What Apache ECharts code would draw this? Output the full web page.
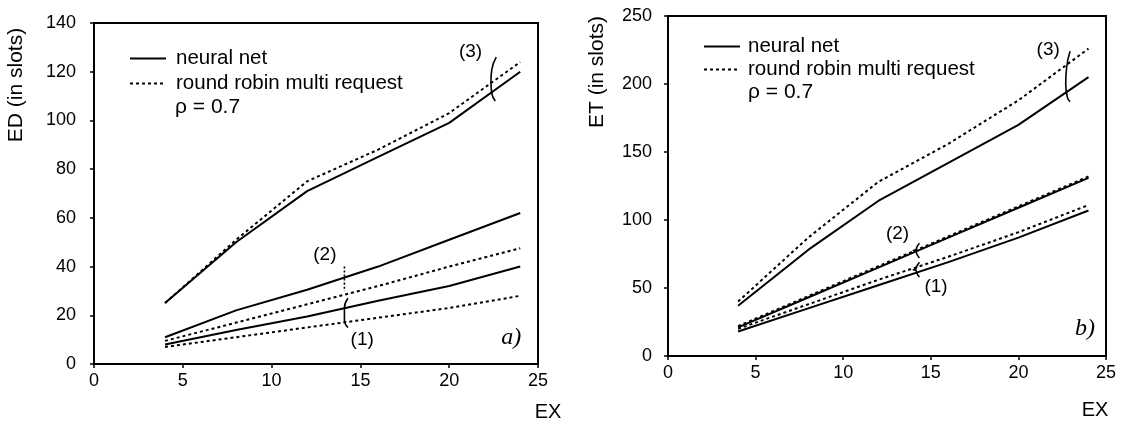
<!DOCTYPE html>
<html>
<head>
<meta charset="utf-8">
<script src="https://cdn.jsdelivr.net/npm/echarts@6/dist/echarts.min.js"></script>
<style>
  html, body { margin: 0; padding: 0; background: #fff; }
  #chart { width: 1126px; height: 432px; }
</style>
</head>
<body>
<div id="chart"></div>
<script>
// ---- data ----
const xValues = [4, 8, 12, 16, 20, 24];
const xTicks = [0, 5, 10, 15, 20, 25];

// panel a) ED (in slots)
const edNeural1 = [8, 14, 19.5, 26, 32, 40];
const edRR1     = [7, 11, 15, 19, 23, 28];
const edNeural2 = [11, 22, 30.5, 40, 51, 62];
const edRR2     = [9.5, 17, 24.5, 32, 40, 47.5];
const edNeural3 = [25, 50, 71, 85, 99, 120];
const edRR3     = [25, 51, 75, 88, 103, 124];

// panel b) ET (in slots)
const etNeural1 = [18, 35, 52, 69, 87, 107];
const etRR1     = [20, 38, 56, 73, 91, 111];
const etNeural2 = [21, 43, 65, 87, 109, 131];
const etRR2     = [22, 44, 66, 88, 110, 132];
const etNeural3 = [37, 78, 114, 142, 170, 205];
const etRR3     = [40, 87, 128, 156, 188, 226];

// annotation braces (data coordinates)
const braceA3 = [[22.65, 126], [22.4, 121], [22.35, 116], [22.4, 111], [22.6, 108]];
const braceA2 = [[14.1, 40], [14.1, 30]];
const braceA1 = [[14.3, 27], [14.1, 23], [14.1, 18], [14.3, 15]];
const braceB3 = [[22.95, 224], [22.75, 212], [22.7, 200], [22.8, 190], [22.95, 187]];
const braceB2 = [[14.35, 83], [14.2, 80], [14.15, 78], [14.0, 77.5], [14.15, 77], [14.2, 75], [14.35, 72]];
const braceB1 = [[14.35, 69], [14.2, 66], [14.15, 64], [14.0, 63.5], [14.15, 63], [14.2, 61], [14.35, 58]];

// annotation labels (data coordinates)
const labelsA = [['(3)', 21.2, 128], ['(2)', 13.0, 45], ['(1)', 15.1, 10]];
const labelsB = [['(3)', 21.7, 225], ['(2)', 13.1, 90], ['(1)', 15.3, 51]];
const panelA = [['a)', 23.5, 11]];
const panelB = [['b)', 23.8, 20]];

const NN = 'neural net';
const RR = 'round robin multi request';
const FONT = 'Liberation Sans';
const TXT = '21px "Liberation Sans"';

function pairs(ys) { return xValues.map((x, i) => [x, ys[i]]); }

function lineSeries(name, ys, idx, dotted) {
  return {
    type: 'line', name: name, xAxisIndex: idx, yAxisIndex: idx,
    data: pairs(ys), symbol: 'none', silent: true,
    lineStyle: { color: '#000', width: 2, type: dotted ? [3, 3] : 'solid' },
    itemStyle: { color: '#000' }
  };
}
function braceSeries(pts, idx, dotted) {
  return {
    type: 'line', xAxisIndex: idx, yAxisIndex: idx, data: pts, smooth: true,
    symbol: 'none', silent: true,
    lineStyle: { color: '#000', width: 1.6, type: dotted ? [2, 2] : 'solid' }
  };
}

const axisCommon = {
  axisLine: { show: true, lineStyle: { color: '#000', width: 2 } },
  axisTick: { show: true, inside: false, length: 4, lineStyle: { color: '#000', width: 1.5 } },
  splitLine: { show: false },
  axisLabel: { color: '#000', fontFamily: FONT, fontSize: 18 }
};

function legendFor(left, top, lh, pad) {
  return {
    data: [NN, RR], orient: 'vertical', left: left, top: top, itemWidth: 36, itemHeight: 12, itemGap: 0,
    selectedMode: false,
    itemStyle: { color: 'rgba(0,0,0,0)', borderWidth: 0, opacity: 0 },
    textStyle: { color: '#000', fontFamily: FONT, fontSize: 20.5, lineHeight: lh, padding: [0, 0, 0, pad] }
  };
}

const option = {
  animation: false,
  backgroundColor: '#fff',
  grid: [
    { left: 94, right: 588, top: 23, bottom: 68, show: true, borderColor: '#000', borderWidth: 2 },
    { left: 668, right: 20, top: 16, bottom: 76, show: true, borderColor: '#000', borderWidth: 2 }
  ],
  xAxis: [
    Object.assign({}, axisCommon, { type: 'value', gridIndex: 0, min: 0, max: 25, interval: 5,
      axisLabel: Object.assign({}, axisCommon.axisLabel, { margin: 8 }) }),
    Object.assign({}, axisCommon, { type: 'value', gridIndex: 1, min: 0, max: 25, interval: 5,
      axisLabel: Object.assign({}, axisCommon.axisLabel, { margin: 8 }) })
  ],
  yAxis: [
    Object.assign({}, axisCommon, { type: 'value', gridIndex: 0, min: 0, max: 140, interval: 20,
      axisLabel: Object.assign({}, axisCommon.axisLabel, { margin: 18 }) }),
    Object.assign({}, axisCommon, { type: 'value', gridIndex: 1, min: 0, max: 250, interval: 50,
      axisLabel: Object.assign({}, axisCommon.axisLabel, { margin: 16 }) })
  ],
  legend: [
    legendFor(124, 41, 25, 5),
    legendFor(698, 30, 23, 3)
  ],
  graphic: [
    { type: 'text', x: 16, y: 85, rotation: Math.PI / 2,
      style: { text: 'ED (in slots)', fill: '#000', font: TXT, align: 'center', verticalAlign: 'middle' } },
    { type: 'text', x: 597, y: 72, rotation: Math.PI / 2,
      style: { text: 'ET (in slots)', fill: '#000', font: TXT, align: 'center', verticalAlign: 'middle' } },
    { type: 'text', x: 548, y: 412,
      style: { text: 'EX', fill: '#000', font: '20px "Liberation Sans"', align: 'center', verticalAlign: 'middle' } },
    { type: 'text', x: 1095, y: 410,
      style: { text: 'EX', fill: '#000', font: '20px "Liberation Sans"', align: 'center', verticalAlign: 'middle' } },
    { type: 'text', x: 175, y: 107,
      style: { text: 'ρ = 0.7', fill: '#000', font: TXT, align: 'left', verticalAlign: 'middle' } },
    { type: 'text', x: 748, y: 92,
      style: { text: 'ρ = 0.7', fill: '#000', font: TXT, align: 'left', verticalAlign: 'middle' } }
  ],
  series: [
    lineSeries(NN, edNeural3, 0, false), lineSeries(RR, edRR3, 0, true),
    lineSeries(NN, edNeural2, 0, false), lineSeries(RR, edRR2, 0, true),
    lineSeries(NN, edNeural1, 0, false), lineSeries(RR, edRR1, 0, true),
    lineSeries(NN, etNeural3, 1, false), lineSeries(RR, etRR3, 1, true),
    lineSeries(NN, etNeural2, 1, false), lineSeries(RR, etRR2, 1, true),
    lineSeries(NN, etNeural1, 1, false), lineSeries(RR, etRR1, 1, true),
    braceSeries(braceA3, 0, false), braceSeries(braceA2, 0, true), braceSeries(braceA1, 0, false),
    braceSeries(braceB3, 1, false), braceSeries(braceB2, 1, false), braceSeries(braceB1, 1, false)
  ]
};

const chart = echarts.init(document.getElementById('chart'), null, { renderer: 'canvas' });
chart.setOption(option);

// annotation texts placed through the grids' own coordinate systems
function annot(items, gridIndex, font) {
  return items.map(d => {
    const p = chart.convertToPixel({ gridIndex: gridIndex }, [d[1], d[2]]);
    return { type: 'text', x: p[0], y: p[1], silent: true,
      style: { text: d[0], fill: '#000', font: font, align: 'center', verticalAlign: 'middle' } };
  });
}
const extra = [].concat(
  annot(labelsA, 0, '19px "Liberation Sans"'),
  annot(labelsB, 1, '19px "Liberation Sans"'),
  annot(panelA, 0, 'italic 24px "Liberation Serif"'),
  annot(panelB, 1, 'italic 24px "Liberation Serif"')
);
chart.setOption({ graphic: option.graphic.concat(extra) });
</script>
</body>
</html>
